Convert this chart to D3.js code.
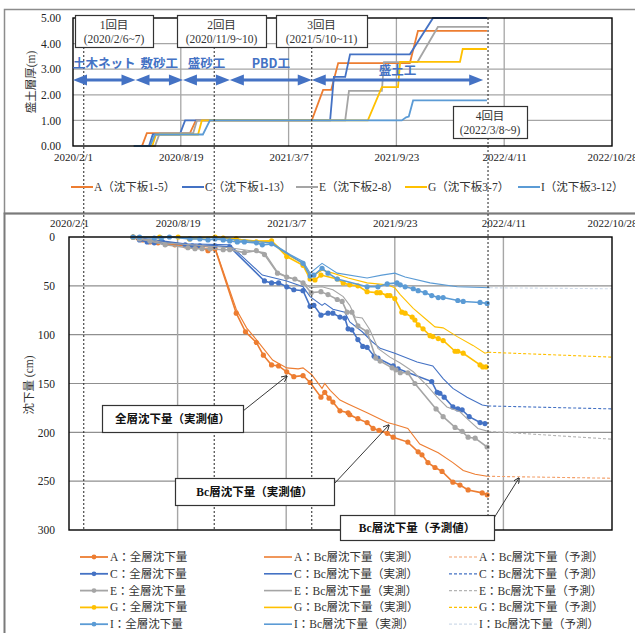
<!DOCTYPE html>
<html>
<head>
<meta charset="utf-8">
<script src="https://cdnjs.cloudflare.com/ajax/libs/d3/7.8.5/d3.min.js"></script>
<style>
	body { margin: 0; background: #fff; }
	svg { display: block; }
</style>
</head>
<body>
<div id="chart"></div>
<script>
// ---- data ----
const xTicks = ['2020-02-01', '2020-08-19', '2021-03-07', '2021-09-23', '2022-04-11', '2022-10-28'];
const xTickLabels = ['2020/2/1', '2020/8/19', '2021/3/7', '2021/9/23', '2022/4/11', '2022/10/28'];
const fillTicks = [0, 1, 2, 3, 4, 5];
const settleTicks = [0, 50, 100, 150, 200, 250, 300];

const pointIds = ['A', 'C', 'E', 'G', 'I'];
const plateNames = ['A（沈下板1-5）', 'C（沈下板1-13）', 'E（沈下板2-8）', 'G（沈下板3-7）', 'I（沈下板3-12）'];

// fill thickness (m)
const fillA = [['2020-05-24',0],['2020-06-08',0],['2020-06-17',0.5],['2020-09-05',0.5],['2020-09-16',1.0],['2021-04-19',1.0],['2021-05-10',2.19],['2021-05-25',2.19],['2021-06-07',3.24],['2021-10-18',3.24],['2021-11-02',4.5],['2022-03-10',4.5]];
const fillC = [['2020-05-24',0],['2020-06-21',0],['2020-06-28',0.45],['2020-08-17',0.45],['2020-08-27',1.0],['2021-05-23',1.0],['2021-05-30',2.7],['2021-06-20',2.7],['2021-06-29',3.58],['2021-10-18',3.58],['2021-11-30',5.0],['2022-03-10',5.0]];
const fillE = [['2020-05-24',0],['2020-07-02',0],['2020-07-11',0.5],['2020-09-11',0.5],['2020-09-18',1.0],['2021-06-20',1.0],['2021-06-27',2.15],['2021-08-27',2.15],['2021-08-31',3.28],['2021-11-01',3.28],['2021-12-09',4.65],['2022-03-10',4.65]];
const fillG = [['2020-05-24',0],['2020-06-27',0],['2020-07-04',0.45],['2020-09-20',0.45],['2020-09-27',1.0],['2021-08-01',1.0],['2021-08-27',2.3],['2021-09-26',2.3],['2021-09-30',3.29],['2022-01-19',3.29],['2022-01-24',3.79],['2022-03-10',3.79]];
const fillI = [['2020-05-24',0],['2020-06-23',0],['2020-07-02',0.45],['2020-09-29',0.45],['2020-10-12',1.0],['2021-10-03',1.0],['2021-10-11',1.12],['2021-10-16',1.15],['2021-10-24',1.78],['2022-03-10',1.78]];

// total settlement, measured (cm)
const fullA = [['2020-05-29',0],['2020-06-07',1],['2020-06-16',3],['2020-06-29',5],['2020-07-14',6],['2020-07-29',7],['2020-08-14',8],['2020-09-02',9],['2020-09-20',10],['2020-10-03',11],['2020-10-14',14],['2020-10-27',12],['2020-12-05',78],['2020-12-22',97],['2021-01-11',108],['2021-01-24',121],['2021-02-08',131],['2021-02-21',132],['2021-03-08',138],['2021-03-21',143],['2021-04-07',142],['2021-04-20',149],['2021-05-10',164],['2021-05-17',159],['2021-05-25',165],['2021-06-01',169],['2021-06-14',178],['2021-06-29',180],['2021-07-02',182],['2021-07-17',186],['2021-08-03',190],['2021-08-14',196],['2021-08-25',198],['2021-09-09',201],['2021-09-20',205],['2021-10-17',210],['2021-11-05',220],['2021-11-12',223],['2021-11-23',231],['2021-12-06',236],['2021-12-19',240],['2022-01-08',251],['2022-01-21',254],['2022-02-05',259],['2022-03-03',262],['2022-03-12',264]];
const fullC = [['2020-05-29',0],['2020-06-10',3],['2020-06-24',5],['2020-07-07',6],['2020-07-22',5],['2020-09-02',8],['2020-09-15',9],['2020-09-29',9],['2020-10-27',9],['2020-11-23',10],['2021-01-26',45],['2021-02-08',47],['2021-02-21',47],['2021-03-08',51],['2021-03-21',54],['2021-04-07',55],['2021-04-20',71],['2021-04-27',70],['2021-05-10',80],['2021-05-23',78],['2021-06-01',78],['2021-06-14',82],['2021-06-23',83],['2021-06-29',94],['2021-07-06',95],['2021-07-17',105],['2021-07-26',112],['2021-08-03',113],['2021-08-16',122],['2021-08-23',124],['2021-09-20',132],['2021-09-29',135],['2021-11-30',148],['2021-12-10',159],['2021-12-15',160],['2021-12-23',164],['2022-01-08',174],['2022-01-17',176],['2022-01-25',177],['2022-02-07',184],['2022-02-27',190],['2022-03-08',191]];
const fullE = [['2020-05-29',0],['2020-06-10',2],['2020-06-29',4],['2020-07-27',8],['2020-09-07',11],['2020-09-20',12],['2020-10-03',12],['2020-10-18',12],['2020-11-11',13],['2020-11-23',13],['2020-12-20',16],['2021-01-11',14],['2021-01-26',18],['2021-02-19',37],['2021-03-08',41],['2021-03-23',43],['2021-04-07',47],['2021-04-22',57],['2021-05-10',56],['2021-05-23',59],['2021-06-09',64],['2021-06-18',66],['2021-06-27',77],['2021-07-06',77],['2021-07-17',91],['2021-08-03',97],['2021-08-19',124],['2021-08-27',127],['2021-09-18',134],['2021-09-25',136],['2021-10-03',139],['2021-10-17',139],['2021-10-30',150],['2021-12-08',176],['2021-12-21',184],['2022-01-12',195],['2022-01-25',199],['2022-02-05',205],['2022-02-18',206],['2022-03-12',215]];
const fullG = [['2020-05-29',0],['2020-07-17',0],['2020-08-20',0],['2020-09-10',2],['2020-10-27',0],['2020-11-11',1],['2020-12-05',2],['2021-01-11',5],['2021-02-08',4],['2021-03-08',20],['2021-04-07',29],['2021-04-20',43],['2021-04-29',44],['2021-05-10',39],['2021-06-09',43],['2021-06-20',47],['2021-07-02',49],['2021-07-17',50],['2021-08-03',56],['2021-08-21',57],['2021-08-27',57],['2021-09-09',60],['2021-09-14',60],['2021-09-23',63],['2021-10-06',77],['2021-10-12',78],['2021-10-25',82],['2021-10-30',85],['2021-11-05',90],['2021-11-14',94],['2021-11-27',101],['2021-12-02',102],['2021-12-12',104],['2021-12-21',106],['2022-01-12',117],['2022-01-17',117],['2022-01-27',119],['2022-02-27',131],['2022-03-04',133],['2022-03-10',133]];
const fullI = [['2020-05-29',0],['2020-06-10',0],['2020-07-07',1],['2020-07-20',1],['2020-08-04',0],['2020-09-11',2],['2020-09-29',2],['2020-10-14',3],['2020-10-27',2],['2020-11-11',3],['2020-11-23',4],['2020-12-07',5],['2020-12-20',5],['2021-01-11',6],['2021-01-22',8],['2021-02-08',7],['2021-04-07',27],['2021-04-20',40],['2021-04-27',39],['2021-05-12',32],['2021-05-23',37],['2021-06-09',43],['2021-08-03',51],['2021-08-23',51],['2021-09-09',48],['2021-09-27',47],['2021-10-03',49],['2021-10-12',51],['2021-10-27',53],['2021-11-05',55],['2021-11-18',57],['2021-11-30',60],['2021-12-12',62],['2021-12-21',62],['2022-01-17',65],['2022-01-27',66],['2022-02-27',67],['2022-03-12',68]];

// Bc layer settlement, measured (cm)
const bcA = [['2020-05-29',0],['2020-06-16',2],['2020-07-14',5],['2020-09-02',8],['2020-10-27',11],['2020-12-05',74],['2020-12-24',93],['2021-01-11',105],['2021-02-10',126],['2021-03-08',134],['2021-03-29',135],['2021-04-07',134],['2021-04-23',141],['2021-05-12',155],['2021-05-17',150],['2021-05-27',157],['2021-06-14',167],['2021-06-29',171],['2021-08-03',180],['2021-09-09',190],['2021-09-23',192],['2021-10-17',196],['2021-11-08',212],['2021-12-12',221],['2022-01-08',231],['2022-01-27',239],['2022-02-18',243],['2022-03-12',245]];
const bcC = [['2020-05-29',0],['2020-09-02',7],['2020-11-23',8],['2021-01-22',39],['2021-03-08',45],['2021-04-07',51],['2021-04-20',61],['2021-05-12',70],['2021-05-17',68],['2021-06-01',74],['2021-06-23',77],['2021-07-02',87],['2021-07-25',97],['2021-08-12',107],['2021-08-27',114],['2021-09-23',119],['2021-11-03',128],['2021-12-02',132],['2021-12-21',145],['2022-01-08',155],['2022-02-03',164],['2022-03-03',172],['2022-03-14',173]];
const bcE = [['2020-05-29',0],['2020-07-27',6],['2020-11-23',11],['2021-01-26',16],['2021-02-19',36],['2021-03-14',42],['2021-04-07',46],['2021-04-20',52],['2021-05-12',51],['2021-06-01',54],['2021-06-20',61],['2021-07-02',70],['2021-07-12',82],['2021-07-25',83],['2021-08-08',95],['2021-08-23',114],['2021-09-14',123],['2021-10-03',129],['2021-10-27',138],['2021-11-21',152],['2021-12-10',164],['2021-12-28',174],['2022-01-21',179],['2022-02-05',187],['2022-02-23',196],['2022-03-14',199]];
const bcG = [['2020-05-29',0],['2020-08-20',0],['2020-10-27',0],['2020-12-05',2],['2021-01-11',4],['2021-02-08',4],['2021-03-08',18],['2021-04-07',27],['2021-04-22',41],['2021-05-12',34],['2021-06-01',37],['2021-06-29',42],['2021-08-03',47],['2021-09-09',49],['2021-09-23',52],['2021-10-03',59],['2021-10-27',73],['2021-11-21',85],['2021-12-06',92],['2021-12-21',93],['2022-01-16',102],['2022-02-14',111],['2022-03-08',119],['2022-03-14',118]];
const bcI = [['2020-05-29',0],['2020-08-04',0],['2020-10-27',1],['2021-02-08',6],['2021-03-14',18],['2021-04-07',25],['2021-04-20',37],['2021-05-12',27],['2021-06-09',37],['2021-08-03',42],['2021-08-30',39],['2021-09-23',37],['2021-10-12',41],['2021-11-27',47],['2022-01-16',51],['2022-03-17',52]];

// Bc layer settlement, predicted (cm)
const predA = [['2022-03-12',245],['2022-10-28',247]];
const predC = [['2022-03-14',173],['2022-10-28',176]];
const predE = [['2022-03-14',199],['2022-10-28',207]];
const predG = [['2022-03-14',118],['2022-10-28',123]];
const predI = [['2022-03-17',52],['2022-10-28',53]];

// construction stages and survey rounds
const workNames = ['土木ネット', '敷砂工', '盛砂工', 'PBD工', '盛土工'];
const workBounds = ['2020-02-01', '2020-05-27', '2020-08-23', '2020-11-18', '2021-04-19', '2022-03-03'];
const surveyNames = ['1回目', '2回目', '3回目', '4回目'];
const surveyPeriods = ['(2020/2/6~7)', '(2020/11/9~10)', '(2021/5/10~11)', '(2022/3/8~9)'];
const surveyLineDates = ['2020-02-21', '2020-10-20', '2021-04-19', '2022-03-12'];

// ---- styles / layout ----
const colors = ['#ED7D31', '#4472C4', '#A5A5A5', '#FFC000', '#5B9BD5'];
const predColors = ['#F4A06A', '#4472C4', '#B4B4B4', '#FFC000', '#D0DCEA'];
const serif = '"Liberation Serif", "Noto Sans CJK JP", serif';
const gothic = '"Noto Sans CJK JP", sans-serif';
const gridColor = '#a6a6a6';

const fillSeries = [fillA, fillC, fillE, fillG, fillI];
const fullSeries = [fullA, fullC, fullE, fullG, fullI];
const bcSeries = [bcA, bcC, bcE, bcG, bcI];
const predSeries = [predA, predC, predE, predG, predI];

const parse = d3.timeParse('%Y-%m-%d');
const W = 635, H = 633;

const svg = d3.select('#chart').append('svg')
	.attr('width', W).attr('height', H)
	.style('font-family', serif);

// panel frames
svg.append('rect').attr('x', 4.5).attr('y', 9.5).attr('width', W).attr('height', 204)
	.attr('fill', 'none').attr('stroke', '#8c8c8c').attr('stroke-width', 1.5);
svg.append('rect').attr('x', 4.5).attr('y', 213.5).attr('width', W).attr('height', H)
	.attr('fill', 'none').attr('stroke', '#7a7a7a').attr('stroke-width', 2);

// ================= top chart : fill thickness =================
const xTop = d3.scaleTime().domain([parse(xTicks[0]), parse(xTicks[5])]).range([73, 612]);
const yTop = d3.scaleLinear().domain([0, 5]).range([146, 18]);

const $top = svg.append('g');

$top.selectAll('.hgrid').data(fillTicks.slice(1, -1)).enter().append('line')
	.attr('x1', 73).attr('x2', 612)
	.attr('y1', d => yTop(d)).attr('y2', d => yTop(d))
	.attr('stroke', gridColor).attr('stroke-width', 1.3);
$top.selectAll('.vgrid').data(xTicks.slice(1, -1)).enter().append('line')
	.attr('x1', d => xTop(parse(d))).attr('x2', d => xTop(parse(d)))
	.attr('y1', 18).attr('y2', 146)
	.attr('stroke', gridColor).attr('stroke-width', 1.3);

const yAxisTop = d3.axisLeft(yTop).tickValues(fillTicks).tickFormat(d3.format('.2f')).tickSize(0).tickPadding(12);
$top.append('g').attr('transform', 'translate(73,0)').call(yAxisTop)
	.call(g => g.select('.domain').remove())
	.attr('font-family', serif).attr('font-size', 11.5)
	.selectAll('text').attr('fill', '#222');

const xAxisTop = d3.axisBottom(xTop).tickValues(xTicks.map(parse))
	.tickFormat((d, i) => xTickLabels[i]).tickSize(0).tickPadding(7);
$top.append('g').attr('transform', 'translate(0,146)').call(xAxisTop)
	.call(g => g.select('.domain').remove())
	.attr('font-family', serif).attr('font-size', 11)
	.selectAll('text').attr('fill', '#222');

$top.append('text')
	.attr('transform', 'translate(35,82) rotate(-90)')
	.attr('text-anchor', 'middle')
	.attr('font-size', 11.5).attr('fill', '#333')
	.text('盛土層厚(m)');

const fillLine = d3.line().x(d => xTop(parse(d[0]))).y(d => yTop(d[1]));
fillSeries.forEach((s, i) => {
	$top.append('path').datum(s)
		.attr('d', fillLine)
		.attr('fill', 'none')
		.attr('stroke', colors[i])
		.attr('stroke-width', 1.8);
});

$top.append('rect').attr('x', 73).attr('y', 18).attr('width', 539).attr('height', 128)
	.attr('fill', 'none').attr('stroke', '#000').attr('stroke-width', 1.4);

// ================= bottom chart : settlement =================
const xBot = d3.scaleTime().domain([parse(xTicks[0]), parse(xTicks[5])]).range([69, 612]);
const yBot = d3.scaleLinear().domain([0, 300]).range([237, 530]);

const $bot = svg.append('g');

$bot.selectAll('.hgrid').data(settleTicks.slice(1, -1)).enter().append('line')
	.attr('x1', 69).attr('x2', 612)
	.attr('y1', d => yBot(d)).attr('y2', d => yBot(d))
	.attr('stroke', '#8f8f8f').attr('stroke-width', 1.2);
$bot.selectAll('.vgrid').data(xTicks.slice(1, -1)).enter().append('line')
	.attr('x1', d => xBot(parse(d))).attr('x2', d => xBot(parse(d)))
	.attr('y1', 237).attr('y2', 530)
	.attr('stroke', gridColor).attr('stroke-width', 1.4);

const yAxisBot = d3.axisLeft(yBot).tickValues(settleTicks).tickSize(0).tickPadding(14);
$bot.append('g').attr('transform', 'translate(69,0)').call(yAxisBot)
	.call(g => g.select('.domain').remove())
	.attr('font-family', serif).attr('font-size', 11.5)
	.selectAll('text').attr('fill', '#222');

const xAxisBot = d3.axisTop(xBot).tickValues(xTicks.map(parse))
	.tickFormat((d, i) => xTickLabels[i]).tickSize(0).tickPadding(10);
$bot.append('g').attr('transform', 'translate(0,237)').call(xAxisBot)
	.call(g => g.select('.domain').remove())
	.attr('font-family', serif).attr('font-size', 11)
	.selectAll('text').attr('fill', '#222');

$bot.append('text')
	.attr('transform', 'translate(33,385) rotate(-90)')
	.attr('text-anchor', 'middle')
	.attr('font-size', 11.5).attr('fill', '#333')
	.text('沈下量 (cm)');

const settleLine = d3.line().x(d => xBot(parse(d[0]))).y(d => yBot(d[1]));
pointIds.forEach((id, i) => {
	$bot.append('path').datum(fullSeries[i])
		.attr('d', settleLine).attr('fill', 'none')
		.attr('stroke', colors[i]).attr('stroke-width', 1.6);
	$bot.append('g').selectAll('circle').data(fullSeries[i]).enter().append('circle')
		.attr('cx', d => xBot(parse(d[0])))
		.attr('cy', d => yBot(d[1]))
		.attr('r', 2.6)
		.attr('fill', colors[i]);
	$bot.append('path').datum(bcSeries[i])
		.attr('d', settleLine).attr('fill', 'none')
		.attr('stroke', colors[i]).attr('stroke-width', 1.1);
	$bot.append('path').datum(predSeries[i])
		.attr('d', settleLine).attr('fill', 'none')
		.attr('stroke', predColors[i]).attr('stroke-width', 1.1)
		.attr('stroke-dasharray', '3,2');
});

$bot.append('rect').attr('x', 69).attr('y', 237).attr('width', 543).attr('height', 293)
	.attr('fill', 'none').attr('stroke', '#000').attr('stroke-width', 1.4);

// ================= survey lines, stage arrows, boxes =================
surveyLineDates.forEach((d, i) => {
	svg.append('line')
		.attr('x1', xTop(parse(d))).attr('x2', xTop(parse(d)))
		.attr('y1', i === 3 ? 18 : 47).attr('y2', 530)
		.attr('stroke', '#222').attr('stroke-width', 1)
		.attr('stroke-dasharray', '2,2');
});

const arrowY = 80;
const $work = svg.append('g');
workNames.forEach((name, i) => {
	const x1 = xTop(parse(workBounds[i]));
	const x2 = xTop(parse(workBounds[i + 1]));
	$work.append('line').attr('x1', x1 + 10).attr('x2', x2 - 10)
		.attr('y1', arrowY).attr('y2', arrowY)
		.attr('stroke', '#4472C4').attr('stroke-width', 3.2);
	$work.append('path')
		.attr('d', `M${x1},${arrowY} L${x1 + 14},${arrowY - 5.5} L${x1 + 14},${arrowY + 5.5} Z`)
		.attr('fill', '#4472C4');
	$work.append('path')
		.attr('d', `M${x2},${arrowY} L${x2 - 14},${arrowY - 5.5} L${x2 - 14},${arrowY + 5.5} Z`)
		.attr('fill', '#4472C4');
	$work.append('text')
		.attr('x', (x1 + x2) / 2 + (i === 4 ? 0 : 0))
		.attr('y', i === 4 ? 75 : 68)
		.attr('text-anchor', 'middle')
		.attr('font-family', gothic).attr('font-weight', 'bold')
		.attr('font-size', 12.5).attr('fill', '#4472C4')
		.text(name);
});

// survey boxes (layout)
const surveyBoxes = [
	{ x: 75, y: 15, w: 78, h: 32 },
	{ x: 177, y: 15, w: 89, h: 32 },
	{ x: 276, y: 15, w: 91, h: 32 },
	{ x: 453, y: 106, w: 74, h: 32 }
];
surveyBoxes.forEach((b, i) => {
	svg.append('rect').attr('x', b.x + 0.5).attr('y', b.y + 0.5).attr('width', b.w).attr('height', b.h)
		.attr('fill', '#fff').attr('stroke', '#333').attr('stroke-width', 1.2);
	svg.append('text').attr('x', b.x + b.w / 2).attr('y', b.y + 14)
		.attr('text-anchor', 'middle').attr('font-size', 11.5).attr('fill', '#333')
		.text(surveyNames[i]);
	svg.append('text').attr('x', b.x + b.w / 2).attr('y', b.y + 28)
		.attr('text-anchor', 'middle').attr('font-size', 11.5).attr('fill', '#333')
		.text(surveyPeriods[i]);
});

// ================= settlement callouts =================
const callouts = [
	{ text: '全層沈下量（実測値）', x: 102, y: 405, w: 141, h: 27, from: [243, 411], to: [287, 376] },
	{ text: 'Bc層沈下量（実測値）', x: 175, y: 478, w: 159, h: 27, from: [334, 484], to: [389, 425] },
	{ text: 'Bc層沈下量（予測値）', x: 340, y: 515, w: 154, h: 25, from: [494, 518], to: [519, 478] }
];
svg.append('defs').append('marker')
	.attr('id', 'open-arrow').attr('viewBox', '0 0 10 10')
	.attr('refX', 9).attr('refY', 5)
	.attr('markerWidth', 7).attr('markerHeight', 7)
	.attr('orient', 'auto')
	.append('path').attr('d', 'M0,0 L10,5 L0,10').attr('fill', 'none').attr('stroke', '#222').attr('stroke-width', 1.4);

callouts.forEach(c => {
	svg.append('line')
		.attr('x1', c.from[0]).attr('y1', c.from[1])
		.attr('x2', c.to[0]).attr('y2', c.to[1])
		.attr('stroke', '#222').attr('stroke-width', 0.9)
		.attr('marker-end', 'url(#open-arrow)');
	svg.append('rect').attr('x', c.x + 0.5).attr('y', c.y + 0.5).attr('width', c.w).attr('height', c.h)
		.attr('fill', '#fff').attr('stroke', '#333').attr('stroke-width', 1.2);
	svg.append('text').attr('x', c.x + c.w / 2).attr('y', c.y + c.h / 2 + 4)
		.attr('text-anchor', 'middle').attr('font-weight', 'bold')
		.attr('font-size', 11.5).attr('fill', '#111')
		.text(c.text);
});

// ================= legends =================
const topLegendX = [71, 182, 296, 405, 518];
const $tl = svg.append('g');
plateNames.forEach((name, i) => {
	const x = topLegendX[i];
	$tl.append('line').attr('x1', x).attr('x2', x + 22).attr('y1', 187).attr('y2', 187)
		.attr('stroke', colors[i]).attr('stroke-width', 2);
	$tl.append('text').attr('x', x + 23).attr('y', 191)
		.attr('font-size', 11.5).attr('fill', '#333').text(name);
});

const legendCols = [80, 264, 449];
const legendSuffix = ['：全層沈下量', '：Bc層沈下量（実測）', '：Bc層沈下量（予測）'];
const $bl = svg.append('g');
pointIds.forEach((id, i) => {
	const y = 557 + i * 16.8;
	legendCols.forEach((x, j) => {
		$bl.append('line').attr('x1', x).attr('x2', x + 28).attr('y1', y).attr('y2', y)
			.attr('stroke', j === 2 ? predColors[i] : colors[i])
			.attr('stroke-width', j === 0 ? 1.8 : (j === 1 ? 1.6 : 1.2))
			.attr('stroke-dasharray', j === 2 ? '3,2' : null);
		if (j === 0) {
			$bl.append('circle').attr('cx', x + 14).attr('cy', y).attr('r', 2.4).attr('fill', colors[i]);
		}
		$bl.append('text').attr('x', x + 30).attr('y', y + 4)
			.attr('font-size', 11.5).attr('fill', '#333')
			.text(id + legendSuffix[j]);
	});
});
</script>
</body>
</html>
